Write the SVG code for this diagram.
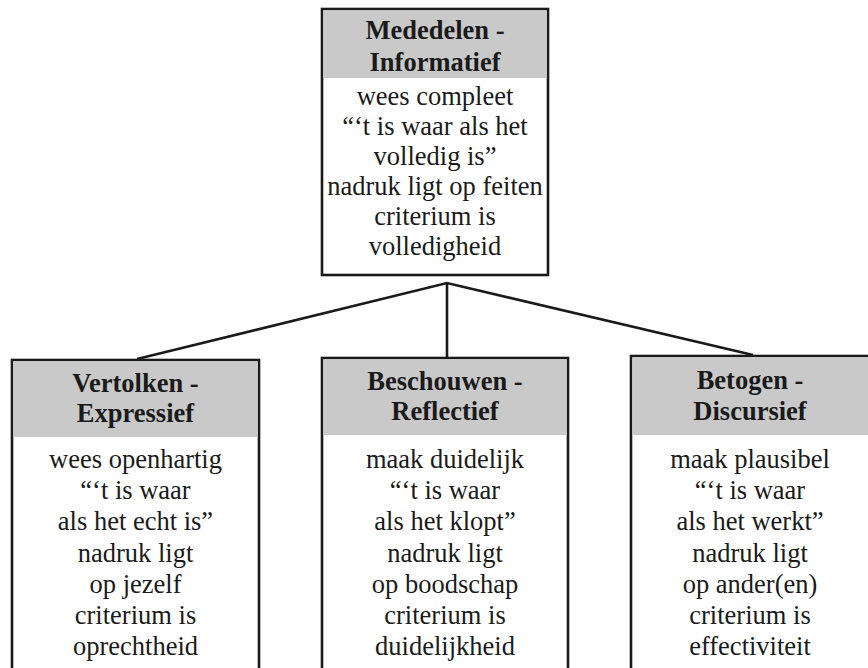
<svg xmlns="http://www.w3.org/2000/svg" width="868" height="668" viewBox="0 0 868 668">
<style>
.box{fill:#ffffff;stroke:#1a1a1a;stroke-width:2.6}
.hdr{fill:#c9c9c9}
.hb{fill:#1a1a1a;font-family:"Liberation Serif","Times New Roman",serif;font-weight:bold;font-size:26.5px;text-anchor:middle}
.tx{fill:#1a1a1a;font-family:"Liberation Serif","Times New Roman",serif;font-size:26.5px;text-anchor:middle}
.con{fill:none;stroke:#1a1a1a;stroke-width:2.6;stroke-linejoin:miter}
</style>
<rect width="868" height="668" fill="#ffffff"/>
<g id="connectors">
<polyline class="con" points="137,359 447,283 753,355"/>
<line class="con" x1="447" y1="283" x2="447" y2="358"/>
</g>
<g id="node-mededelen">
<rect class="box" x="322" y="9" width="226" height="266"/>
<rect class="hdr" x="323.3" y="10.3" width="223.4" height="67.7"/>
<text class="hb" x="435" y="39">Mededelen -</text>
<text class="hb" x="435" y="71">Informatief</text>
<text class="tx" x="435" y="105">wees compleet</text>
<text class="tx" x="435" y="135">“‘t is waar als het</text>
<text class="tx" x="435" y="165">volledig is”</text>
<text class="tx" x="435" y="195">nadruk ligt op feiten</text>
<text class="tx" x="435" y="225">criterium is</text>
<text class="tx" x="435" y="255">volledigheid</text>
</g>
<g id="node-vertolken">
<rect class="box" x="12" y="360" width="247" height="320"/>
<rect class="hdr" x="13.3" y="361.3" width="244.4" height="75.7"/>
<text class="hb" x="135.5" y="392">Vertolken -</text>
<text class="hb" x="135.5" y="422">Expressief</text>
<text class="tx" x="135.5" y="468">wees openhartig</text>
<text class="tx" x="135.5" y="499">“‘t is waar</text>
<text class="tx" x="135.5" y="530">als het echt is”</text>
<text class="tx" x="135.5" y="562">nadruk ligt</text>
<text class="tx" x="135.5" y="593">op jezelf</text>
<text class="tx" x="135.5" y="624">criterium is</text>
<text class="tx" x="135.5" y="655">oprechtheid</text>
</g>
<g id="node-beschouwen">
<rect class="box" x="322" y="358" width="246" height="322"/>
<rect class="hdr" x="323.3" y="359.3" width="243.4" height="75.7"/>
<text class="hb" x="445" y="390">Beschouwen -</text>
<text class="hb" x="445" y="420">Reflectief</text>
<text class="tx" x="445" y="468">maak duidelijk</text>
<text class="tx" x="445" y="499">“‘t is waar</text>
<text class="tx" x="445" y="530">als het klopt”</text>
<text class="tx" x="445" y="562">nadruk ligt</text>
<text class="tx" x="445" y="593">op boodschap</text>
<text class="tx" x="445" y="624">criterium is</text>
<text class="tx" x="445" y="655">duidelijkheid</text>
</g>
<g id="node-betogen">
<rect class="box" x="631" y="356" width="240" height="324"/>
<rect class="hdr" x="632.3" y="357.3" width="237.4" height="77.7"/>
<text class="hb" x="750" y="389">Betogen -</text>
<text class="hb" x="750" y="420">Discursief</text>
<text class="tx" x="750" y="468">maak plausibel</text>
<text class="tx" x="750" y="499">“‘t is waar</text>
<text class="tx" x="750" y="530">als het werkt”</text>
<text class="tx" x="750" y="562">nadruk ligt</text>
<text class="tx" x="750" y="593">op ander(en)</text>
<text class="tx" x="750" y="624">criterium is</text>
<text class="tx" x="750" y="655">effectiviteit</text>
</g>
</svg>
